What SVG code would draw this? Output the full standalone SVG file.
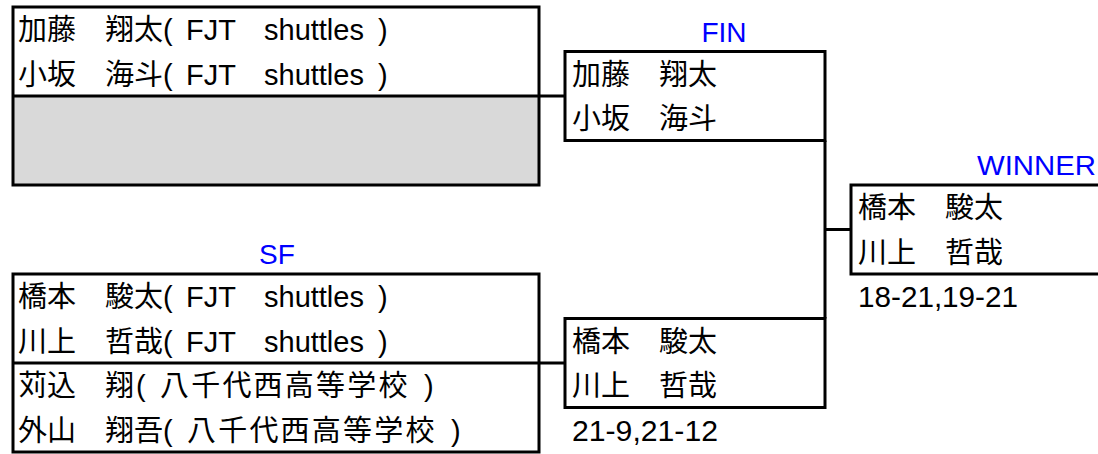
<svg xmlns="http://www.w3.org/2000/svg" width="1098" height="454" viewBox="0 0 1098 454">
<style>
.t{font-family:"Liberation Sans","Noto Sans CJK JP",sans-serif;font-size:29px;fill:#000}
.lbl{font-family:"Liberation Sans","Noto Sans CJK JP",sans-serif;font-size:28px;fill:#0000FF}
.box{fill:#fff;stroke:#000;stroke-width:3}
.ln{fill:none;stroke:#000;stroke-width:3}
.sc{letter-spacing:2.2px}
</style>
<rect x="0" y="0" width="1098" height="454" fill="#fff"/>
<g id="labels">
<text class="lbl" x="724" y="42" text-anchor="middle">FIN</text>
<text class="lbl" x="977" y="175" textLength="119" lengthAdjust="spacingAndGlyphs">WINNER</text>
<text class="lbl" x="277" y="264" text-anchor="middle">SF</text>
</g>
<g id="connectors">
<path class="ln" d="M539,96 H565 M539,363 H565 M825,140.5 V318.5 M825,229.5 H851"/>
</g>
<g id="sf1">
<rect x="13" y="96" width="526" height="89" fill="#D9D9D9"/>
<rect class="box" x="13" y="7" width="526" height="178" style="fill:none"/>
<line class="ln" x1="13" y1="96" x2="539" y2="96"/>
<text class="t" x="18" y="40">加藤　翔太<tspan x="163">(</tspan><tspan x="186">FJT</tspan><tspan x="264">shuttles</tspan><tspan x="378">)</tspan></text>
<text class="t" x="18" y="84.5">小坂　海斗<tspan x="163">(</tspan><tspan x="186">FJT</tspan><tspan x="264">shuttles</tspan><tspan x="378">)</tspan></text>
</g>
<g id="sf2">
<rect class="box" x="13" y="274" width="526" height="178"/>
<line class="ln" x1="13" y1="363" x2="539" y2="363"/>
<text class="t" x="18" y="307">橋本　駿太<tspan x="163">(</tspan><tspan x="186">FJT</tspan><tspan x="264">shuttles</tspan><tspan x="378">)</tspan></text>
<text class="t" x="18" y="351.5">川上　哲哉<tspan x="163">(</tspan><tspan x="186">FJT</tspan><tspan x="264">shuttles</tspan><tspan x="378">)</tspan></text>
<text class="t" x="18" y="396">苅込　翔<tspan x="136">(</tspan><tspan class="sc" x="160">八千代西高等学校</tspan><tspan x="424">)</tspan></text>
<text class="t" x="18" y="440.5">外山　翔吾<tspan x="163">(</tspan><tspan class="sc" x="187">八千代西高等学校</tspan><tspan x="451">)</tspan></text>
</g>
<g id="fin1">
<rect class="box" x="565" y="51.5" width="260" height="89"/>
<text class="t" x="572" y="84.5">加藤　翔太</text>
<text class="t" x="572" y="129">小坂　海斗</text>
</g>
<g id="fin2">
<rect class="box" x="565" y="318.5" width="260" height="89"/>
<text class="t" x="572" y="351.5">橋本　駿太</text>
<text class="t" x="572" y="396">川上　哲哉</text>
<text class="t" x="572" y="440.5" textLength="146" lengthAdjust="spacingAndGlyphs">21-9,21-12</text>
</g>
<g id="winner">
<path class="ln" d="M1102,185 H851 V274 H1102" style="fill:#fff"/>
<text class="t" x="858" y="218">橋本　駿太</text>
<text class="t" x="858" y="262.5">川上　哲哉</text>
<text class="t" x="858" y="307" textLength="160" lengthAdjust="spacingAndGlyphs">18-21,19-21</text>
</g>
</svg>
